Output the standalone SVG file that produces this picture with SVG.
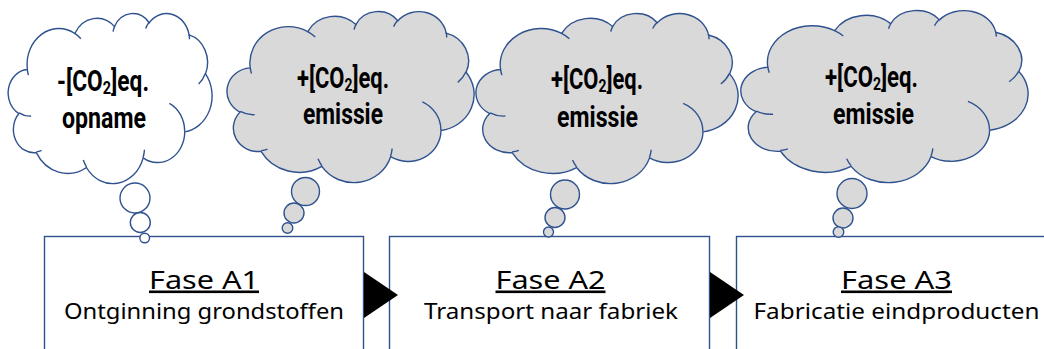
<svg xmlns="http://www.w3.org/2000/svg" xmlns:xlink="http://www.w3.org/1999/xlink" width="1044" height="349" viewBox="0 0 1044 349">
  <style>
    .box { fill: #ffffff; stroke: #2F528F; stroke-width: 1.4; }
    .cw { fill: #ffffff; stroke: #2F528F; stroke-width: 1.4; }
    .cg { fill: #D9D9D9; stroke: #2F528F; stroke-width: 1.4; }
    .crease { fill: none; stroke: #2F528F; stroke-width: 1.4; }
    .ctext { font-family: "Roboto", "Liberation Sans", sans-serif; font-weight: 700; font-size: 30px; fill: #000000; }
    .sub { font-size: 19px; }
    .title { font-family: "Noto Sans", "DejaVu Sans", sans-serif; font-size: 26px; fill: #000000; text-decoration: underline; }
    .subtitle { font-family: "Noto Sans", "DejaVu Sans", sans-serif; font-size: 21px; fill: #000000; }
    .arrow { fill: #000000; stroke: none; }
  </style>
  <defs>
    <path id="cloudOutline" vector-effect="non-scaling-stroke" d="M3900 14370 A6753 9190 0 0 1 14006 5203 A5333 7267 0 0 1 22457 3431 A4365 5945 0 0 1 29835 2480 A4857 6595 0 0 1 38319 5577 A5333 7273 0 0 1 41819 15461 A6775 9220 0 0 1 37405 30203 A5785 7867 0 0 1 28557 36814 A6752 9215 0 0 1 16482 39265 A7720 10543 0 0 1 5804 35470 A4360 5918 0 0 1 2114 25547 A4345 5945 0 0 1 3900 14370 Z"/>
    <path id="cloudCreases" vector-effect="non-scaling-stroke" d="M4693 26177 A4345 5945 0 0 1 2160 25380 M6928 34899 A4360 5918 0 0 1 5820 35281 M16478 39090 A6752 9215 0 0 1 15810 37349 M28827 34751 A6752 9215 0 0 1 28560 36661 M34129 22954 A5785 7867 0 0 1 37381 30090 M41798 15354 A5333 7273 0 0 1 40349 18031 M38324 5426 A4857 6595 0 0 1 38400 6690 M29078 3952 A4857 6595 0 0 1 29821 2338 M22141 4720 A4365 5945 0 0 1 22500 3330 M14000 5192 A6753 9190 0 0 1 15298 6539 M4127 15789 A6753 9190 0 0 1 3900 14371"/>
  </defs>

  <g id="fase-a1">
    <rect class="box" x="44.5" y="236.5" width="319" height="200"/>
    <text class="title" x="149" y="288.5" textLength="110" lengthAdjust="spacingAndGlyphs">Fase A1</text>
    <text class="subtitle" x="64" y="318.5" textLength="280" lengthAdjust="spacingAndGlyphs">Ontginning grondstoffen</text>
  </g>
  <g id="fase-a2">
    <rect class="box" x="389.5" y="236.5" width="320" height="200"/>
    <text class="title" x="495.5" y="288.5" textLength="110" lengthAdjust="spacingAndGlyphs">Fase A2</text>
    <text class="subtitle" x="424" y="318.5" textLength="254" lengthAdjust="spacingAndGlyphs">Transport naar fabriek</text>
  </g>
  <g id="fase-a3">
    <rect class="box" x="736.5" y="236.5" width="330" height="200"/>
    <text class="title" x="841" y="288.5" textLength="111" lengthAdjust="spacingAndGlyphs">Fase A3</text>
    <text class="subtitle" x="753.5" y="318.5" textLength="286" lengthAdjust="spacingAndGlyphs">Fabricatie eindproducten</text>
  </g>

  <g id="connectors">
    <polygon class="arrow" points="364,272 398,295 364,318"/>
    <polygon class="arrow" points="710,272 744,295 710,318"/>
  </g>

  <g id="cloud-a1-opname">
    <use xlink:href="#cloudOutline" href="#cloudOutline" class="cw" transform="translate(9,13) scale(0.0046991,0.0039352)"/>
    <use xlink:href="#cloudCreases" href="#cloudCreases" class="crease" transform="translate(9,13) scale(0.0046991,0.0039352)"/>
    <circle class="cw" cx="135" cy="198" r="15"/>
    <circle class="cw" cx="140.3" cy="222.5" r="10"/>
    <circle class="cw" cx="144.7" cy="238" r="4.8"/>
    <text class="ctext" x="57" y="91" textLength="92" lengthAdjust="spacingAndGlyphs">-[CO<tspan class="sub" baseline-shift="-2.5">2</tspan>]eq.</text>
    <text class="ctext" x="62" y="128" textLength="84" lengthAdjust="spacingAndGlyphs">opname</text>
  </g>

  <g id="cloud-a1-emissie">
    <use xlink:href="#cloudOutline" href="#cloudOutline" class="cg" transform="translate(228,11) scale(0.0056944,0.0039583)"/>
    <use xlink:href="#cloudCreases" href="#cloudCreases" class="crease" transform="translate(228,11) scale(0.0056944,0.0039583)"/>
    <circle class="cg" cx="305.5" cy="191.5" r="14"/>
    <circle class="cg" cx="294" cy="213" r="10"/>
    <circle class="cg" cx="287.5" cy="228" r="5.3"/>
    <text class="ctext" x="297" y="88" textLength="92" lengthAdjust="spacingAndGlyphs">+[CO<tspan class="sub" baseline-shift="-2.5">2</tspan>]eq.</text>
    <text class="ctext" x="303" y="124" textLength="80" lengthAdjust="spacingAndGlyphs">emissie</text>
  </g>

  <g id="cloud-a2-emissie">
    <use xlink:href="#cloudOutline" href="#cloudOutline" class="cg" transform="translate(477,13) scale(0.0060417,0.0039352)"/>
    <use xlink:href="#cloudCreases" href="#cloudCreases" class="crease" transform="translate(477,13) scale(0.0060417,0.0039352)"/>
    <circle class="cg" cx="565" cy="194.5" r="14.5"/>
    <circle class="cg" cx="555" cy="217.5" r="10"/>
    <circle class="cg" cx="548.5" cy="232" r="5"/>
    <text class="ctext" x="551" y="89" textLength="92" lengthAdjust="spacingAndGlyphs">+[CO<tspan class="sub" baseline-shift="-2.5">2</tspan>]eq.</text>
    <text class="ctext" x="557" y="126.5" textLength="81" lengthAdjust="spacingAndGlyphs">emissie</text>
  </g>

  <g id="cloud-a3-emissie">
    <use xlink:href="#cloudOutline" href="#cloudOutline" class="cg" transform="translate(742,10) scale(0.0066204,0.0039815)"/>
    <use xlink:href="#cloudCreases" href="#cloudCreases" class="crease" transform="translate(742,10) scale(0.0066204,0.0039815)"/>
    <circle class="cg" cx="852" cy="193.5" r="15"/>
    <circle class="cg" cx="843" cy="218" r="10"/>
    <circle class="cg" cx="838.5" cy="232" r="5.3"/>
    <text class="ctext" x="825" y="87" textLength="93" lengthAdjust="spacingAndGlyphs">+[CO<tspan class="sub" baseline-shift="-2.5">2</tspan>]eq.</text>
    <text class="ctext" x="833" y="124" textLength="81" lengthAdjust="spacingAndGlyphs">emissie</text>
  </g>
</svg>
